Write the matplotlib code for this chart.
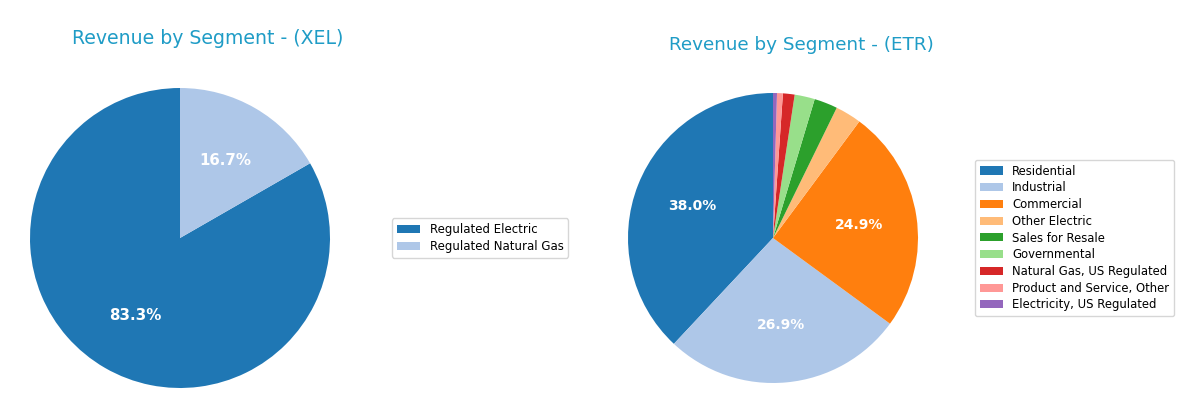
import numpy as np
import matplotlib.pyplot as plt

# XEL segments
xel_labels = ['Regulated Electric', 'Regulated Natural Gas']
xel_values = [83.3, 16.7]

# ETR segments
etr_labels = ['Residential', 'Industrial', 'Commercial', 'Other Electric',
              'Sales for Resale', 'Governmental', 'Natural Gas, US Regulated',
              'Product and Service, Other', 'Electricity, US Regulated']
etr_values = [38.0, 26.9, 24.9, 2.9, 2.6, 2.25, 1.3, 0.65, 0.44]

colors = plt.cm.tab20.colors
title_color = '#1f9cc6'

W, H = 1200, 419
fig = plt.figure(figsize=(W / 100, H / 100), dpi=100)


def pct_fmt(p):
    return f'{p:.1f}%' if p >= 5 else ''


def draw_pie(cx, cy, r, labels, values, title, title_y, title_fs, pct_fs,
             leg_x, leg_fs, leg_sp):
    # axes sized so that the pie radius (1 unit) is r pixels
    half = 1.1 * r
    ax = fig.add_axes([(cx - half) / W, (H - cy - half) / H, 2 * half / W, 2 * half / H])
    wedges, texts, autotexts = ax.pie(values, colors=colors[:len(values)], startangle=90,
                                      autopct=pct_fmt, pctdistance=0.6,
                                      textprops={'color': 'white', 'fontsize': pct_fs,
                                                 'fontweight': 'bold'})
    ax.set_xlim(-1.1, 1.1)
    ax.set_ylim(-1.1, 1.1)
    ax.set_aspect('equal')
    ax.axis('off')
    fig.text((cx + 28) / W, 1 - title_y / H, title, ha='center', va='center',
             fontsize=title_fs, color=title_color)
    fig.legend(wedges, labels, loc='center left', bbox_to_anchor=(leg_x / W, 1 - cy / H),
               bbox_transform=fig.transFigure, borderaxespad=0, fontsize=leg_fs,
               labelspacing=leg_sp)
    return ax


draw_pie(180, 238, 150, xel_labels, xel_values, 'Revenue by Segment - (XEL)',
         38, 13.6, 10.8, 392, 8.5, 0.35)
draw_pie(773, 238, 145, etr_labels, etr_values, 'Revenue by Segment - (ETR)',
         45, 13.2, 10, 975, 8.4, 0.32)

fig.savefig('out.png', dpi=100)
